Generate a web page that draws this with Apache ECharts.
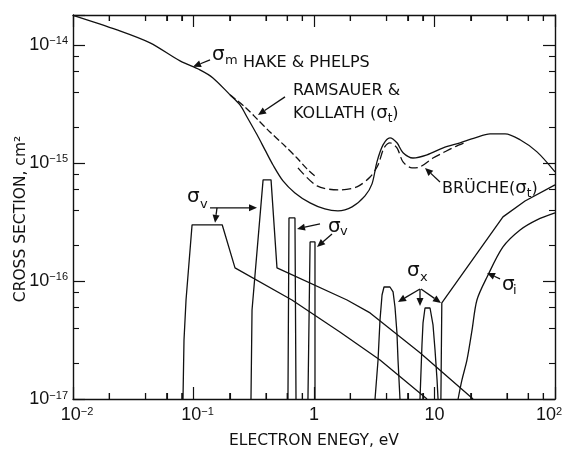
<!DOCTYPE html>
<html><head><meta charset="utf-8">
<script src="https://cdn.jsdelivr.net/npm/echarts@6/dist/echarts.min.js"></script>
<style>html,body{margin:0;padding:0;background:#fff}#c{width:564px;height:449px}</style>
</head><body><div id="c"></div>
<script>
// ---------------- data (energy in eV, cross section in cm^2) ----------------
const sigmaM_E = [0.01, 0.0232, 0.0436, 0.0773, 0.113, 0.145, 0.201, 0.243, 0.278, 0.337, 0.392, 0.457, 0.553, 0.695, 0.927, 1.23, 1.58, 2.07, 2.65, 3.03, 3.33, 3.74, 4.27, 4.88, 5.48, 6.63, 8.67, 11.8, 16.3, 21.7, 28.9, 38.5, 51.3, 70.9, 100];
const sigmaM   = [1.78e-14, 1.34e-14, 1.04e-14, 7.31e-15, 6.14e-15, 5.25e-15, 3.77e-15, 3.10e-15, 2.45e-15, 1.73e-15, 1.29e-15, 9.6e-16, 7.04e-16, 5.57e-16, 4.58e-16, 4.07e-16, 3.92e-16, 4.24e-16, 5.25e-16, 6.64e-16, 1.02e-15, 1.42e-15, 1.63e-15, 1.48e-15, 1.22e-15, 1.10e-15, 1.17e-15, 1.34e-15, 1.48e-15, 1.63e-15, 1.76e-15, 1.76e-15, 1.57e-15, 1.24e-15, 8.4e-16];

const ramsauer_E = [0.201, 0.267, 0.343, 0.431, 0.574, 0.723, 0.875, 1.06];
const ramsauer   = [3.77e-15, 2.98e-15, 2.31e-15, 1.83e-15, 1.39e-15, 1.10e-15, 8.90e-16, 7.47e-16];

const bruche_E = [0.736, 1.06, 1.64, 2.27, 2.92, 3.40, 3.81, 4.27, 4.88, 5.48, 6.50, 7.58, 9.72, 11.8, 14.8, 18.6];
const bruche   = [9.08e-16, 6.38e-16, 5.90e-16, 6.27e-16, 7.6e-16, 9.6e-16, 1.34e-15, 1.48e-15, 1.34e-15, 1.02e-15, 9.08e-16, 9.25e-16, 1.10e-15, 1.22e-15, 1.37e-15, 1.51e-15];

const sigmaV1_E = [0.0818, 0.0834, 0.0867, 0.0973, 0.173, 0.221, 0.656, 1.64, 3.53, 8.67];
const sigmaV1   = [1e-17, 3.16e-17, 6.9e-17, 2.99e-16, 2.99e-16, 1.29e-16, 6.9e-17, 3.70e-17, 2.14e-17, 1e-17];

const sigmaV2_E = [0.300, 0.306, 0.378, 0.440, 0.493, 1.88, 2.92, 7.58, 20.9];
const sigmaV2   = [1e-17, 5.68e-17, 7.18e-16, 7.18e-16, 1.29e-16, 6.9e-17, 5.36e-17, 2.46e-17, 1e-17];

const sigmaV3_E = [0.608, 0.620, 0.695, 0.709];
const sigmaV3   = [1e-17, 3.42e-16, 3.42e-16, 1e-17];

const sigmaV4_E = [0.891, 0.928, 1.019, 1.019];
const sigmaV4   = [1e-17, 2.14e-16, 2.14e-16, 1e-17];

const sigmaX1_E = [3.21, 3.40, 3.53, 3.67, 3.81, 4.27, 4.53, 4.70, 4.88, 4.98, 5.17];
const sigmaX1   = [1e-17, 2.14e-17, 4.67e-17, 7.60e-17, 8.89e-17, 8.89e-17, 8.07e-17, 6.02e-17, 3.62e-17, 2.14e-17, 1e-17];

const sigmaX2_E = [7.58, 7.87, 8.03, 8.34, 9.18, 9.72, 10.1, 10.5, 10.7];
const sigmaX2   = [1e-17, 2.87e-17, 4.41e-17, 5.90e-17, 5.90e-17, 4.24e-17, 2.60e-17, 1.45e-17, 1e-17];

const sigmaX3_E = [11.3, 11.5, 37.0, 56.4, 100];
const sigmaX3   = [1e-17, 6.51e-17, 3.49e-16, 4.76e-16, 6.51e-16];

const sigmaI_E = [15.7, 16.9, 18.6, 20.5, 22.5, 27.3, 37.0, 51.3, 70.9, 100];
const sigmaI   = [1e-17, 1.45e-17, 2.14e-17, 3.85e-17, 6.9e-17, 1.08e-16, 1.94e-16, 2.70e-16, 3.29e-16, 3.77e-16];

// axis ranges and tick labels
const X_MIN = 0.01, X_MAX = 100;
const Y_MIN = 1e-17, Y_MAX = 1.79e-14;
const xDecades = [-2, -1, 0, 1];       // decades carrying minor ticks
const yDecades = [-17, -16, -15, -14];
const minorMult = [2, 4, 6, 8];
const xTickText = {'-2': '{bx|10}{s|−2}', '-1': '{bx|10}{s|−1}', '0': '{p|1}', '1': '{p|10}', '2': '{p|10}{sr|2}'};
const yTickText = {'-17': '{b|10}{s|−17}', '-16': '{b|10}{s|−16}', '-15': '{b|10}{s|−15}', '-14': '{b|10}{s|−14}'};

// ---------------- chart ----------------
const INK = '#111';
const LAB = 'Liberation Sans';
const TXT = 'DejaVu Sans';
const chart = echarts.init(document.getElementById('c'), null, {renderer: 'canvas'});

function pairs(E, S) { return E.map((e, i) => [e, S[i]]); }
function mkLine(name, E, S, extra) {
  return Object.assign({
    type: 'line', name: name, data: pairs(E, S), xAxisIndex: 0, yAxisIndex: 0,
    symbol: 'none', showSymbol: false, silent: true, animation: false,
    lineStyle: {color: INK, width: 1.3}, itemStyle: {color: INK}
  }, extra || {});
}
function expOf(v) { const l = Math.log10(v); const e = Math.round(l); return Math.abs(l - e) < 1e-6 ? e : null; }

const xMinorRaw = [], xMinorLog = [];
xDecades.forEach(d => minorMult.forEach(m => { const v = m * Math.pow(10, d); xMinorRaw.push(v); xMinorLog.push(Math.log10(v)); }));
const yMinorLog = [];
yDecades.forEach(d => minorMult.forEach(m => { const v = m * Math.pow(10, d); if (v < Y_MAX) yMinorLog.push(Math.log10(v)); }));

const axLine = () => ({show: true, onZero: false, lineStyle: {color: INK, width: 1.4}});
const majTick = () => ({show: true, inside: true, length: 12, lineStyle: {color: INK, width: 1.2}});
const richY = {
  b: {fontFamily: LAB, fontSize: 18, lineHeight: 18, color: INK, padding: [5, 0, 0, 0], verticalAlign: 'bottom'},
  s: {fontFamily: LAB, fontSize: 11, lineHeight: 11, color: INK, verticalAlign: 'top'}
};
const richX = {
  bx: {fontFamily: LAB, fontSize: 18, lineHeight: 18, color: INK, padding: [5, 0, 0, 8], verticalAlign: 'bottom'},
  p: {fontFamily: LAB, fontSize: 18, lineHeight: 18, color: INK, padding: [5, 0, 0, 0], verticalAlign: 'bottom'},
  s: {fontFamily: LAB, fontSize: 11, lineHeight: 11, color: INK, verticalAlign: 'top'},
  sr: {fontFamily: LAB, fontSize: 11, lineHeight: 11, color: INK, verticalAlign: 'top', padding: [0, 12, 0, 0]}
};
const grid = {left: 73, right: 9, top: 15, bottom: 50, containLabel: false, outerBoundsMode: 'none'};

function helperAxis(pos, gi, lo, hi, vals) {
  return {type: 'value', gridIndex: gi, position: pos, min: lo, max: hi, show: true,
    axisLine: {show: false, onZero: false}, splitLine: {show: false}, axisLabel: {show: false},
    axisTick: {show: true, inside: true, length: 6, customValues: vals, lineStyle: {color: INK, width: 1.1}}};
}

const option = {
  animation: false,
  backgroundColor: '#fff',
  grid: [Object.assign({}, grid), Object.assign({}, grid), Object.assign({}, grid)],
  xAxis: [
    {type: 'log', logBase: 10, gridIndex: 0, position: 'bottom', min: X_MIN, max: X_MAX,
     axisLine: axLine(), axisTick: majTick(), splitLine: {show: false},
     axisLabel: {show: true, margin: 7, formatter: v => { const e = expOf(v); return e === null ? '' : (xTickText[e] || ''); }, rich: richX},
     name: 'ELECTRON ENEGY, eV', nameLocation: 'middle', nameGap: 34, nameMoveOverlap: false,
     nameTextStyle: {fontFamily: TXT, fontSize: 15.5, color: INK}},
    {type: 'log', logBase: 10, gridIndex: 0, position: 'top', min: X_MIN, max: X_MAX,
     axisLine: axLine(), axisTick: majTick(), splitLine: {show: false}, axisLabel: {show: false}},
    helperAxis('bottom', 1, Math.log10(X_MIN), Math.log10(X_MAX), xMinorLog),
    helperAxis('top', 2, Math.log10(X_MIN), Math.log10(X_MAX), xMinorLog)
  ],
  yAxis: [
    {type: 'log', logBase: 10, gridIndex: 0, position: 'left', min: Y_MIN, max: Y_MAX,
     axisLine: axLine(), axisTick: majTick(), splitLine: {show: false},
     axisLabel: {show: true, margin: 5, formatter: v => { const e = expOf(v); return e === null ? '' : (yTickText[e] || ''); }, rich: richY},
     name: 'CROSS SECTION, cm²', nameLocation: 'middle', nameGap: 44, nameMoveOverlap: false,
     nameTextStyle: {fontFamily: TXT, fontSize: 15.5, color: INK, padding: [0, 24, 0, 0]}},
    {type: 'log', logBase: 10, gridIndex: 0, position: 'right', min: Y_MIN, max: Y_MAX,
     axisLine: axLine(), axisTick: majTick(), splitLine: {show: false}, axisLabel: {show: false}},
    helperAxis('left', 1, Math.log10(Y_MIN), Math.log10(Y_MAX), yMinorLog),
    helperAxis('right', 2, Math.log10(Y_MIN), Math.log10(Y_MAX), yMinorLog)
  ],
  series: [
    mkLine('σm Hake & Phelps', sigmaM_E, sigmaM, {smooth: 0.3}),
    mkLine('Ramsauer & Kollath σt', ramsauer_E, ramsauer, {smooth: 0.3, lineStyle: {color: INK, width: 1.3, type: [7, 3]}}),
    mkLine('Brüche σt', bruche_E, bruche, {smooth: 0.3, lineStyle: {color: INK, width: 1.3, type: [9, 4]}}),
    mkLine('σv 1', sigmaV1_E, sigmaV1),
    mkLine('σv 2', sigmaV2_E, sigmaV2),
    mkLine('σv 3', sigmaV3_E, sigmaV3),
    mkLine('σv 4', sigmaV4_E, sigmaV4),
    mkLine('σx 1', sigmaX1_E, sigmaX1),
    mkLine('σx 2', sigmaX2_E, sigmaX2),
    mkLine('σx 3', sigmaX3_E, sigmaX3),
    mkLine('σi', sigmaI_E, sigmaI, {smooth: 0.3})
  ]
};
chart.setOption(option);

// ---------------- x minor ticks (2,4,6,8 per decade), placed through the x scale ----------------
const gEls = [];
xMinorRaw.forEach(v => {
  const pb = chart.convertToPixel({xAxisIndex: 0, yAxisIndex: 0}, [v, Y_MIN]);
  const pt = chart.convertToPixel({xAxisIndex: 0, yAxisIndex: 0}, [v, Y_MAX]);
  if (pb && pt && isFinite(pb[0]) && isFinite(pb[1]) && isFinite(pt[1])) {
    gEls.push({type: 'line', silent: true, z: 60, shape: {x1: pb[0], y1: pb[1], x2: pb[0], y2: pb[1] - 6}, style: {stroke: INK, lineWidth: 1.2}});
    gEls.push({type: 'line', silent: true, z: 60, shape: {x1: pt[0], y1: pt[1], x2: pt[0], y2: pt[1] + 6}, style: {stroke: INK, lineWidth: 1.2}});
  }
});

// ---------------- annotations (anchored at data points, offsets in px) ----------------
const notes = [
  {at: [0.0991, 6.52e-15], arrows: [[17, -7, 0, 0]],
   texts: [[19, -11.5, 'σ', 20], [32, -6, 'm', 13], [50, -4, 'HAKE & PHELPS', 16]]},
  {at: [0.343, 2.55e-15], arrows: [[27, -18, 0, 0]],
   texts: [[35, -24, 'RAMSAUER &', 16], [35, -1.5, '{a|KOLLATH (}{g|σ}{t|t}{a|)}', 16]]},
  {at: [8.34, 9.07e-16], arrows: [[15, 14, 0, 0]],
   texts: [[17, 20.5, '{a|BRÜCHE(}{g|σ}{t|t}{a|)}', 16]]},
  {at: [0.3366, 4.16e-16], arrows: [[-47, 0, 0, 0], [-40, 0, -42, 15]],
   texts: [[-70, -11, 'σ', 20], [-57, -3, 'v', 13]]},
  {at: [0.7228, 2.76e-16], arrows: [[23, -5, 0, 0], [35, 5, 20, 18]],
   texts: [[31, -2, 'σ', 20], [43, 3, 'v', 13]]},
  {at: [7.58, 6.14e-17], arrows: [[0, -17, -22, -4], [0, -17, 0, 0], [1, -17, 21, -3]],
   texts: [[-13, -35, 'σ', 20], [0, -28, 'x', 13]]},
  {at: [27.3, 1.17e-16], arrows: [[13, 6, 0, 0]],
   texts: [[15, 12, 'σ', 20], [26, 18, 'i', 13]]}
];
const richNote = {
  a: {fontFamily: TXT, fontSize: 16, fill: INK, color: INK},
  g: {fontFamily: TXT, fontSize: 18, fill: INK, color: INK},
  t: {fontFamily: TXT, fontSize: 12, fill: INK, color: INK, verticalAlign: 'bottom', padding: [10, 0, 0, 0]}
};
notes.forEach(n => {
  const p = chart.convertToPixel({xAxisIndex: 0, yAxisIndex: 0}, n.at);
  n.arrows.forEach(a => {
    const x1 = p[0] + a[0], y1 = p[1] + a[1], x2 = p[0] + a[2], y2 = p[1] + a[3];
    const dx = x2 - x1, dy = y2 - y1, L = Math.hypot(dx, dy), ux = dx / L, uy = dy / L;
    const hl = 8, hw = 3.5;
    const bx = x2 - ux * hl, by = y2 - uy * hl;
    gEls.push({type: 'line', silent: true, z: 50, shape: {x1: x1, y1: y1, x2: bx, y2: by}, style: {stroke: INK, lineWidth: 1.3}});
    gEls.push({type: 'polygon', silent: true, z: 50, shape: {points: [[x2, y2], [bx - uy * hw, by + ux * hw], [bx + uy * hw, by - ux * hw]]}, style: {fill: INK}});
  });
  n.texts.forEach(t => {
    gEls.push({type: 'text', silent: true, z: 50, x: p[0] + t[0], y: p[1] + t[1],
      style: {text: t[2], fontFamily: TXT, fontSize: t[3], fill: INK, align: 'left', verticalAlign: 'middle',
              textAlign: 'left', textVerticalAlign: 'middle', rich: richNote}});
  });
});
chart.setOption({graphic: {elements: gEls}});
</script>
</body></html>
